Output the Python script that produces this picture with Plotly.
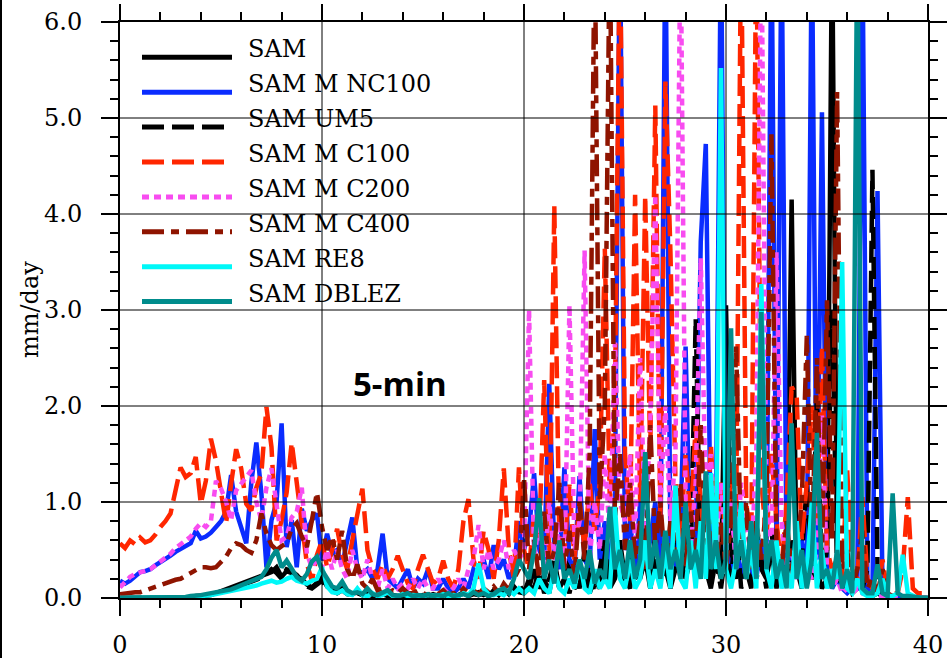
import numpy as np
import plotly.graph_objects as go

# ---------------- data (x grid: 0 .. 40 step 0.25) ----------------
x = np.arange(161) * 0.25

sam = [0,0,0,0,0,0,0,0,0,0,0,0,0,0,0.01,0.01,0.02,0.02,0.03,0.05,
       0.07,0.08,0.1,0.12,0.14,0.16,0.18,0.2,0.22,0.24,0.27,0.32,0.22,0.28,0.26,0.22,0.2,0.14,0.11,0.16,
       0.22,0.12,0.08,0.06,0.1,0.05,0.04,0.06,0.03,0.05,0.03,0.02,0.04,0.02,0.03,0.02,0.04,0.02,0.03,0.02,
       0.03,0.02,0.04,0.02,0.03,0.05,0.02,0.03,0.06,0.02,0.04,0.03,0.05,0.02,0.08,0.03,0.1,0.04,0.12,0.06,
       0.05,0.1,0.3,0.1,0.2,0.05,0.35,0.1,0.2,0.4,0.1,0.15,0.3,0.05,0.2,0.1,0.5,0.15,0.3,0.6,
       0.2,0.1,0.5,0.2,0.4,0.1,0.7,0.2,0.3,0.1,0.6,0.2,0.4,0.8,0.2,0.5,0.3,0.1,0.4,0.2,
       3.05,0.4,0.2,0.6,0.3,0.1,0.8,0.3,0.2,0.5,0.1,0.4,0.2,4.15,0.3,0.1,0.5,0.2,0.3,0.1,
       0.2,7.0,0.3,0.1,0.2,0.05,0.1,0.2,0.05,0.02,0.05,0.02,0.01,0.02,0.01,0,0,0,0,0,
       0]

sam_m_nc100 = [0.18,0.15,0.18,0.22,0.27,0.28,0.3,0.34,0.37,0.4,0.44,0.48,0.51,0.55,0.57,0.7,0.62,0.64,0.68,0.74,
       0.8,0.9,1.28,0.9,0.75,0.57,1.2,1.62,1.09,0.32,0.81,1.0,1.82,0.53,0.81,0.32,0.93,0.7,0.81,0.88,
       0.39,0.67,0.46,0.5,0.35,0.6,0.84,0.3,0.25,0.3,0.2,0.3,0.67,0.2,0.15,0.1,0.2,0.3,0.1,0.2,
       0.15,0.3,0.1,0.1,0.2,0.1,0.05,0.1,0.2,0.1,0.3,0.25,0.4,0.2,0.55,0.3,0.4,0.2,0.3,0.8,
       0.5,0.7,1.3,0.5,0.4,2.23,0.5,0.3,1.36,0.4,0.3,1.27,0.4,0.3,1.76,0.4,0.8,0.3,1.0,7.0,
       0.5,0.8,0.3,1.0,0.4,0.6,1.0,0.3,7.0,0.5,0.3,0.8,2.62,0.3,0.5,3.71,4.73,0.5,0.8,7.0,
       0.5,0.3,0.6,0.2,0.5,0.3,0.2,0.6,0.3,7.0,0.4,7.0,0.3,0.5,0.2,0.6,0.3,7.0,0.4,5.06,
       0.3,0.1,0.2,0.1,0.05,0.1,0.1,7.0,0.1,0.05,4.24,0.05,0.02,0.02,0.01,0.01,0,0,0,0,
       0]

sam_um5 = [0,0,0,0,0,0,0,0,0,0,0,0,0,0.01,0.01,0.02,0.02,0.03,0.04,0.05,
       0.06,0.08,0.09,0.11,0.13,0.15,0.17,0.19,0.21,0.25,0.3,0.26,0.2,0.3,0.28,0.24,0.18,0.12,0.1,0.14,
       0.18,0.1,0.07,0.05,0.08,0.04,0.03,0.05,0.03,0.04,0.02,0.03,0.02,0.03,0.02,0.02,0.03,0.02,0.02,0.03,
       0.02,0.03,0.02,0.04,0.02,0.03,0.04,0.02,0.05,0.03,0.04,0.06,0.03,0.05,0.04,0.07,0.05,0.1,0.06,0.15,
       0.05,0.2,0.1,0.3,0.05,0.2,0.4,0.1,0.2,0.05,0.3,0.1,0.5,0.2,0.1,0.3,0.6,0.1,0.2,0.4,
       0.1,0.5,0.2,0.3,0.8,0.1,0.4,0.2,0.6,0.1,0.3,0.5,0.2,0.4,2.91,0.3,0.6,0.2,0.4,0.1,
       0.5,0.2,0.8,0.1,0.3,0.6,0.2,0.4,0.1,0.7,0.2,0.3,0.1,0.6,0.2,0.4,1.2,0.3,2.1,0.2,
       0.5,3.0,0.3,0.1,0.2,0.1,0.05,0.1,0.3,4.46,0.3,0.05,0.02,0.02,0.01,0.01,0,0,0,0,
       0]

sam_m_c100 = [0.57,0.52,0.6,0.56,0.63,0.58,0.6,0.66,0.74,0.8,0.88,1.1,1.36,1.26,1.3,1.47,0.98,1.22,1.66,1.43,
       1.1,0.78,1.19,1.55,1.35,0.98,0.91,1.15,1.3,1.99,1.57,0.6,0.81,1.1,1.62,1.22,0.84,0.36,0.18,0.45,
       0.6,0.32,0.5,0.72,0.45,0.3,0.6,0.9,1.14,0.5,0.3,0.2,0.35,0.2,0.3,0.44,0.3,0.15,0.1,0.3,
       0.45,0.3,0.15,0.2,0.39,0.2,0.1,0.3,0.8,1.03,0.4,0.2,0.7,0.5,0.2,0.6,1.35,0.5,0.2,1.36,
       0.5,0.3,0.9,0.6,2.27,0.4,4.09,0.6,0.5,1.18,0.4,1.0,0.5,1.2,0.7,1.2,3.64,1.0,2.0,7.0,
       1.5,0.8,4.2,1.0,4.19,1.5,5.13,0.8,5.38,3.6,1.2,0.6,1.5,0.8,1.8,1.0,0.5,1.6,0.6,1.2,
       0.6,1.3,0.8,7.0,1.0,0.5,7.0,1.2,0.6,1.5,0.8,0.3,1.0,2.2,2.1,0.6,1.2,2.0,0.8,2.62,
       0.5,0.3,0.4,0.2,1.33,0.3,0.2,1.05,0.2,0.1,0.1,0.4,0.05,0.05,0.05,0.3,1.05,0.1,0.05,0.05,
       0.02]

sam_m_c200 = [0.11,0.16,0.22,0.25,0.27,0.29,0.3,0.34,0.38,0.42,0.46,0.52,0.56,0.6,0.64,0.72,0.78,0.74,0.8,1.22,
       1.14,1.0,0.81,1.12,1.2,1.26,1.33,1.0,0.81,1.15,1.35,1.0,0.6,0.64,0.84,0.9,1.15,0.46,0.32,0.4,
       0.32,0.5,0.3,0.5,0.3,0.2,0.5,0.3,0.2,0.4,0.2,0.1,0.3,0.1,0.2,0.1,0.15,0.1,0.2,0.1,
       0.2,0.1,0.1,0.2,0.1,0.05,0.1,0.2,0.1,0.3,0.4,0.76,0.3,0.5,0.3,0.4,0.6,0.3,0.5,0.4,
       0.5,3.0,0.4,0.8,0.3,1.0,0.4,0.8,0.3,3.05,0.5,0.8,3.62,0.4,1.0,0.5,1.5,0.6,2.66,1.0,
       0.8,1.5,0.6,2.5,0.7,1.8,4.2,1.0,2.0,0.8,1.5,7.0,1.0,0.5,1.2,3.54,1.0,1.5,0.5,1.2,
       0.5,1.0,0.3,1.2,0.8,0.4,1.5,7.0,1.0,0.5,3.6,0.8,0.3,0.5,0.2,0.4,0.3,0.2,0.5,1.9,
       0.3,0.1,0.2,0.05,0.1,0.05,0.1,0.05,0.1,0.02,0.02,0.02,0.01,0.01,0,0,0,0,0,0,
       0]

sam_m_c400 = [0.04,0.05,0.05,0.06,0.06,0.08,0.1,0.12,0.13,0.15,0.17,0.19,0.2,0.23,0.26,0.3,0.32,0.32,0.31,0.32,
       0.38,0.43,0.52,0.57,0.55,0.5,0.47,0.6,0.88,0.67,0.55,0.5,0.54,0.57,0.72,0.78,0.64,0.53,0.81,1.1,
       0.74,0.5,0.64,0.4,0.7,0.3,0.2,0.35,0.15,0.1,0.2,0.08,0.1,0.05,0.08,0.05,0.1,0.05,0.05,0.08,
       0.05,0.03,0.06,0.04,0.08,0.03,0.05,0.04,0.1,0.05,0.08,0.04,0.1,0.06,0.12,0.05,0.15,0.08,0.2,0.3,
       1.26,0.3,0.6,0.2,0.9,0.3,0.5,1.2,0.3,0.7,0.2,1.0,0.4,1.5,7.0,1.0,2.0,7.0,0.8,1.5,
       0.5,1.2,0.4,0.8,0.3,1.8,0.5,1.0,0.3,0.8,0.4,1.2,0.3,0.9,0.4,1.8,0.5,1.0,0.3,0.8,
       0.3,0.8,2.62,0.5,1.0,0.3,0.8,0.4,1.0,4.83,0.5,0.3,0.8,0.3,0.5,1.0,2.73,0.5,2.5,0.4,
       3.1,0.6,5.27,0.3,0.5,0.1,0.3,0.7,0.1,0.2,0.05,0.3,0.05,0.02,0.02,0.01,0,0,0,0,
       0]

sam_re8 = [0,0,0,0,0,0,0,0,0,0,0,0,0,0,0.01,0.01,0.02,0.02,0.03,0.04,
       0.05,0.06,0.07,0.08,0.09,0.1,0.11,0.13,0.15,0.17,0.18,0.16,0.17,0.2,0.22,0.18,0.16,0.15,0.18,0.2,
       0.32,0.12,0.06,0.05,0.08,0.04,0.03,0.1,0.03,0.02,0.05,0.02,0.03,0.06,0.02,0.02,0.04,0.02,0.03,0.02,
       0.02,0.03,0.02,0.02,0.04,0.02,0.03,0.02,0.05,0.03,0.1,0.36,0.1,0.04,0.03,0.05,0.03,0.08,0.04,0.1,
       0.05,0.1,0.05,0.2,0.1,0.05,0.3,0.1,0.05,0.2,0.1,0.4,0.1,0.05,0.3,0.1,0.2,0.1,0.95,0.2,
       0.1,0.4,0.1,0.2,0.6,0.1,0.3,0.1,0.5,0.1,1.17,0.2,0.1,0.6,0.1,0.8,0.2,1.3,0.3,5.52,
       0.3,0.1,0.4,1.0,0.2,0.5,0.1,3.27,0.3,0.1,0.6,0.1,0.3,0.1,0.8,0.1,0.3,1.0,0.1,0.5,
       0.1,0.3,0.2,3.5,0.1,0.05,0.2,0.05,0.02,0.02,0.05,0.2,0.02,0.02,0.05,0.45,0.05,0.02,0,0,
       0]

sam_dblez = [0,0,0,0,0,0,0,0,0,0,0,0,0.01,0.01,0.02,0.02,0.03,0.04,0.05,0.05,
       0.06,0.07,0.09,0.11,0.13,0.15,0.17,0.2,0.22,0.3,0.42,0.5,0.32,0.39,0.3,0.22,0.18,0.25,0.38,0.43,
       0.29,0.2,0.12,0.1,0.17,0.08,0.05,0.06,0.04,0.1,0.04,0.03,0.05,0.08,0.03,0.02,0.03,0.05,0.02,0.03,
       0.02,0.04,0.02,0.03,0.02,0.05,0.02,0.03,0.04,0.02,0.06,0.03,0.05,0.02,0.04,0.08,0.1,0.05,0.2,0.4,
       0.3,0.2,0.5,1.04,0.2,0.4,0.15,0.6,0.2,0.3,0.15,0.4,0.2,0.5,0.15,0.3,0.2,0.95,0.3,0.5,
       0.2,0.6,0.2,0.4,1.52,0.3,0.6,0.2,0.7,0.3,0.5,0.2,1.0,0.3,0.5,0.2,1.32,0.3,0.6,0.2,
       0.4,2.81,0.3,0.6,0.2,0.8,0.2,2.98,0.3,0.6,0.2,0.4,0.1,1.82,0.2,0.5,0.1,0.4,1.72,0.2,
       0.3,0.1,0.5,0.1,0.3,0.05,7.0,0.1,0.05,0.05,0.35,0.05,0.02,1.09,0.05,0.02,0.02,0.01,0,0,
       0]

names = ["SAM", "SAM M NC100", "SAM UM5", "SAM M C100", "SAM M C200",
         "SAM M C400", "SAM RE8", "SAM DBLEZ"]
series = [sam, sam_m_nc100, sam_um5, sam_m_c100, sam_m_c200, sam_m_c400, sam_re8, sam_dblez]
colors = ["#000000", "#0a2cff", "#000000", "#ff2600", "#f84cf0", "#8f1400", "#00f8f8", "#008c8c"]
dashes = ["solid", "solid", "22px,8px", "22px,8px", "7px,5px", "22px,7px,8px,7px", "solid", "solid"]

x_ticks = [0, 10, 20, 30, 40]
y_ticks = [0, 1, 2, 3, 4, 5, 6]
x_grid = [10, 20, 30]
y_grid = [1, 2, 3, 4, 5]

FONT = "DejaVu Serif"

fig = go.Figure()
for name, ys, c, d in zip(names, series, colors, dashes):
    fig.add_trace(go.Scatter(x=x, y=ys, mode="lines", name=name,
                             line=dict(color=c, width=4.5, dash=d), showlegend=False))

# plot area in pixels
L, R, T, B = 120, 19, 22, 60
W, H = 947, 658
PW, PH = W - L - R, H - T - B

def px2paper(px, py):
    return (px - L) / PW, 1 - (py - T) / PH

shapes = []
# grid lines drawn above data
for g in x_grid:
    shapes.append(dict(type="line", xref="x", yref="paper", x0=g, x1=g, y0=0, y1=1,
                       line=dict(color="black", width=1), layer="above"))
for g in y_grid:
    shapes.append(dict(type="line", xref="paper", yref="y", x0=0, x1=1, y0=g, y1=g,
                       line=dict(color="black", width=1), layer="above"))
# left frame line of the picture
fx, _ = px2paper(1, 0)
shapes.append(dict(type="line", xref="paper", yref="paper", x0=fx, x1=fx,
                   y0=px2paper(0, H)[1], y1=px2paper(0, 0)[1],
                   line=dict(color="black", width=2), layer="above"))

annotations = []
# custom legend
for i, (name, c, d) in enumerate(zip(names, colors, dashes)):
    ly = 57.3 + 34.9 * i
    x0, y0 = px2paper(142, ly)
    x1, _ = px2paper(232, ly)
    shapes.append(dict(type="line", xref="paper", yref="paper", x0=x0, x1=x1, y0=y0, y1=y0,
                       line=dict(color=c, width=5, dash=d), layer="above"))
    tx, ty = px2paper(246, ly - 8)
    annotations.append(dict(xref="paper", yref="paper", x=tx, y=ty, text=name,
                            showarrow=False, xanchor="left", yanchor="middle",
                            font=dict(family=FONT, size=24, color="black")))

# 5-min label
ax_, ay_ = px2paper(400, 383)
annotations.append(dict(xref="paper", yref="paper", x=ax_, y=ay_, text="<b>5-min</b>",
                        showarrow=False, xanchor="center", yanchor="middle",
                        font=dict(family="Open Sans", size=33, color="black")))
# y axis title
tx, ty = px2paper(30, 310)
annotations.append(dict(xref="paper", yref="paper", x=tx, y=ty, text="mm/day",
                        showarrow=False, textangle=-90, xanchor="center", yanchor="middle",
                        font=dict(family=FONT, size=24, color="black")))

fig.update_layout(
    width=W, height=H,
    margin=dict(l=L, r=R, t=T, b=B, autoexpand=False),
    paper_bgcolor="white", plot_bgcolor="white",
    shapes=shapes, annotations=annotations,
    showlegend=False,
)
fig.update_xaxes(range=[0, 40], tickvals=x_ticks, ticktext=[str(v) for v in x_ticks],
                 automargin=False,
                 showgrid=False, zeroline=False, showline=True, linecolor="black", linewidth=2,
                 mirror="allticks", ticks="outside", ticklen=16, tickwidth=2, tickcolor="black",
                 minor=dict(dtick=2, ticks="outside", ticklen=8, tickwidth=1.5, tickcolor="black",
                            showgrid=False),
                 tickfont=dict(family=FONT, size=24, color="black"), ticklabelstandoff=8)
fig.update_yaxes(range=[0, 6], tickvals=y_ticks, ticktext=[f"{v:.1f}" for v in y_ticks],
                 automargin=False,
                 showgrid=False, zeroline=False, showline=True, linecolor="black", linewidth=2,
                 mirror="allticks", ticks="outside", ticklen=17, tickwidth=2, tickcolor="black",
                 minor=dict(dtick=0.2, ticks="outside", ticklen=8, tickwidth=1.5, tickcolor="black",
                            showgrid=False),
                 tickfont=dict(family=FONT, size=24, color="black"), ticklabelstandoff=14)

fig.write_html("out.html", config={"displayModeBar": False},
               post_script="document.body.style.margin='0px';document.body.style.overflow='hidden';")
